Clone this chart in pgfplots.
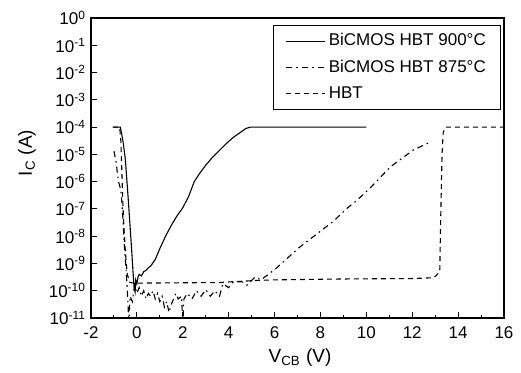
\documentclass[border=0pt]{standalone}
\usepackage{pgfplots}
\pgfplotsset{compat=1.18}
\usepackage{fontspec}
\setmainfont{Liberation Sans}
\begin{document}
\begin{tikzpicture}
\useasboundingbox (-45.5pt,-27pt) rectangle (215pt,159pt);
\begin{axis}[
  at={(0,0)}, anchor=south west,
  scale only axis, width=206.5pt, height=150pt,
  ymode=log, log basis y=10,
  xmin=-2, xmax=16, ymin=1e-11, ymax=1,
  xtick={-2,0,...,16}, minor x tick num=1,
  ytick={1e-11,1e-10,1e-9,1e-8,1e-7,1e-6,1e-5,1e-4,1e-3,1e-2,1e-1,1},
  yticklabels={10\textsuperscript{-11},10\textsuperscript{-10},10\textsuperscript{-9},10\textsuperscript{-8},10\textsuperscript{-7},10\textsuperscript{-6},10\textsuperscript{-5},10\textsuperscript{-4},10\textsuperscript{-3},10\textsuperscript{-2},10\textsuperscript{-1},10\textsuperscript{0}},
  tick pos=left,
  tick align=inside,
  major tick length=3pt, minor tick length=1.5pt,
  axis line style={line width=0.6pt},
  every tick/.style={black, line width=0.5pt},
  /pgf/number format/assume math mode=true,
  tick label style={font=\fontsize{8.5}{10}\selectfont},
  xticklabel style={yshift=-1pt},
  yticklabel style={xshift=1pt},
  xlabel={V\textsubscript{CB} (V)},
  ylabel={I\textsubscript{C} (A)},
  label style={font=\fontsize{9.5}{11}\selectfont},
  xlabel style={at={(axis description cs:0.506,-0.133)}, anchor=center},
  ylabel style={at={(axis description cs:-0.155,0.55)}, anchor=center},
  legend style={font=\fontsize{8.5}{10}\selectfont, draw=black, line width=0.5pt,
    at={(0.993,0.977)}, anchor=north east, inner xsep=6pt, inner ysep=2pt,
    row sep=1.6pt, nodes={inner xsep=1.4pt}},
  legend cell align=left,
  legend image code/.code={\draw[#1] (0pt,0pt) -- (19.5pt,0pt);},
  clip=true,
]
% BiCMOS HBT 900C (solid)
\addplot[black, line width=0.55pt] coordinates {
(-1.05,1e-4) (-0.72,1e-4) (-0.6,2.8e-5) (-0.5,6.3e-6) (-0.45,1.6e-6)
(-0.38,2.5e-7) (-0.3,2.5e-8) (-0.22,2.5e-9) (-0.17,5e-10) (-0.12,1.3e-10)
(-0.08,9e-11) (-0.05,2.5e-10) (0,1.8e-10) (0.05,3.2e-10) (0.1,4e-10)
(0.2,3.5e-10) (0.3,5e-10) (0.4,5.6e-10) (0.5,7e-10) (0.6,8e-10)
(0.8,1.4e-9) (1.0,3.5e-9) (1.25,1e-8) (1.5,2.5e-8) (1.75,5.6e-8)
(2.0,1.1e-7) (2.25,2.8e-7) (2.5,1e-6) (2.75,2.1e-6) (3.0,4e-6)
(3.3,7.9e-6) (3.6,1.4e-5) (3.9,2.5e-5) (4.2,4.2e-5) (4.5,6.3e-5)
(4.75,8.9e-5) (4.95,1e-4) (10.0,1e-4)
};
\addlegendentry{BiCMOS HBT 900°C\hspace{10pt}}
% BiCMOS HBT 875C (dash-dot)
\addplot[black, line width=0.55pt, dash pattern=on 3pt off 2pt on 0.8pt off 2pt] coordinates {
(-1.0,1.3e-5) (-0.9,5e-6) (-0.85,2e-6) (-0.8,1e-6) (-0.7,5e-7)
(-0.65,1.6e-7) (-0.6,3.2e-8) (-0.55,5e-9) (-0.5,1.3e-9) (-0.45,3.2e-10)
(-0.4,5e-11) (-0.35,6e-12) (-0.3,6.3e-11) (-0.2,4e-11) (-0.1,1.6e-10)
(0,8e-11) (0.1,1.3e-10) (0.2,6.3e-11) (0.3,1e-10) (0.4,5e-11)
(0.5,8e-11) (0.6,6.3e-11) (0.7,1e-10) (0.8,5e-11) (0.9,8e-11)
(1.0,4e-11) (1.1,6.3e-11) (1.2,2.5e-11) (1.3,4e-11) (1.4,1.6e-11)
(1.5,3.2e-11) (1.6,5e-11) (1.7,8e-11) (1.8,5e-11) (1.95,6.3e-11)
(2.0,5e-12) (2.05,5e-11) (2.2,8e-11) (2.4,5e-11) (2.6,1e-10)
(2.8,6.3e-11) (3.0,1.1e-10) (3.2,6.3e-11) (3.4,1e-10) (3.6,6.3e-11)
(3.75,1.8e-10) (4.0,1.3e-10) (4.2,2.1e-10) (4.6,2.1e-10) (4.8,1.6e-10)
(5.15,3.2e-10) (5.4,2.5e-10) (5.7,3.8e-10) (6.1,7e-10) (7.1,4e-9)
(8.56,3.5e-8) (9.17,1.07e-7) (9.6,2.1e-7) (10.17,5.9e-7) (11.05,3.5e-6)
(12.05,1.45e-5) (12.7,2.6e-5)
};
\addlegendentry{BiCMOS HBT 875°C}
% HBT (dashed)
\addplot[black, line width=0.55pt, dash pattern=on 2.5pt off 2pt] coordinates {
(-1.05,1e-4) (-0.75,1e-4) (-0.7,3.2e-5) (-0.66,3.2e-6) (-0.62,2.5e-7)
(-0.57,2.5e-8) (-0.5,2.5e-9) (-0.42,4e-10) (-0.3,2e-10) (-0.1,1.9e-10)
(3.6,2e-10) (4,2.1e-10) (5.3,2.4e-10) (6,2.5e-10) (9,2.7e-10)
(12,2.8e-10) (12.95,3e-10) (13.2,5e-10) (13.25,1e-7) (13.3,1e-5)
(13.35,6.3e-5) (13.45,1e-4) (16,1e-4)
};
\addlegendentry{HBT}
\end{axis}
\end{tikzpicture}
\end{document}
